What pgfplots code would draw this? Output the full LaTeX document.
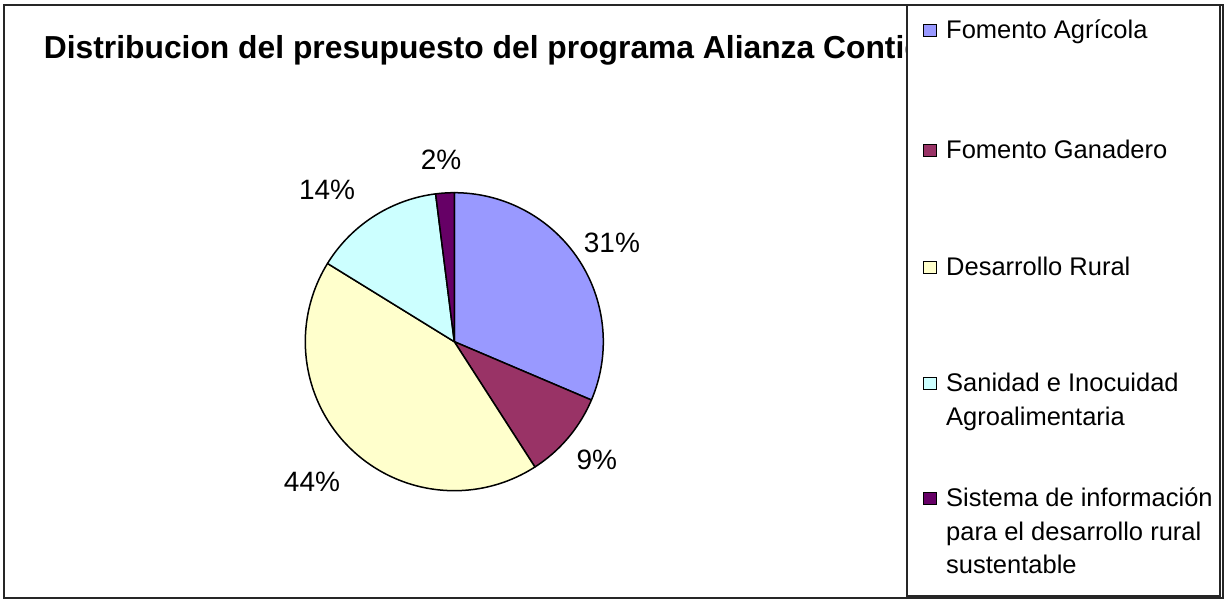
\documentclass[border=0pt]{standalone}
\usepackage{pgfplots}
\pgfplotsset{compat=1.18}
\usepackage{fontspec}
\setmainfont{Liberation Sans}
\definecolor{cA}{HTML}{9999FF}
\definecolor{cB}{HTML}{993366}
\definecolor{cC}{HTML}{FFFFCC}
\definecolor{cD}{HTML}{CCFFFF}
\definecolor{cE}{HTML}{660066}
% shares of the budget (percent)
\def\vA{31.4}% Fomento Agricola
\def\vB{9.5}% Fomento Ganadero
\def\vC{42.9}% Desarrollo Rural
\def\vD{14.2}% Sanidad e Inocuidad Agroalimentaria
\def\vE{2.0}% Sistema de informacion
\pgfmathsetmacro\aA{90}
\pgfmathsetmacro\aB{\aA-3.6*\vA}
\pgfmathsetmacro\aC{\aB-3.6*\vB}
\pgfmathsetmacro\aD{\aC-3.6*\vC}
\pgfmathsetmacro\aE{\aD-3.6*\vD}
\pgfmathsetmacro\aF{\aE-3.6*\vE}
\begin{document}
\begin{tikzpicture}[x=1pt,y=1pt]
\useasboundingbox (0,0) rectangle (1225,599);
\draw[line width=2pt, black!85] (4,1) rectangle (1223,594);
\begin{scope}
\clip (4,1) rectangle (907,594);
\node[anchor=base west, inner sep=0pt, font=\fontsize{31.8}{36}\selectfont\bfseries] at (43.7,540) {Distribucion del presupuesto del programa Alianza Contigo};
\end{scope}
\begin{axis}[at={(454.3pt,257.3pt)}, anchor=center, scale only axis,
  width=298pt, height=298pt, xmin=-1, xmax=1, ymin=-1, ymax=1,
  hide axis, clip=false]
\addplot[fill=cA, draw=black, line width=1.5pt, line join=round, domain=\aB:\aA, samples=100, variable=\t] ({cos(\t)},{sin(\t)}) -- (axis cs:0,0) -- cycle;
\addplot[fill=cB, draw=black, line width=1.5pt, line join=round, domain=\aC:\aB, samples=60, variable=\t] ({cos(\t)},{sin(\t)}) -- (axis cs:0,0) -- cycle;
\addplot[fill=cC, draw=black, line width=1.5pt, line join=round, domain=\aD:\aC, samples=120, variable=\t] ({cos(\t)},{sin(\t)}) -- (axis cs:0,0) -- cycle;
\addplot[fill=cD, draw=black, line width=1.5pt, line join=round, domain=\aE:\aD, samples=60, variable=\t] ({cos(\t)},{sin(\t)}) -- (axis cs:0,0) -- cycle;
\addplot[fill=cE, draw=black, line width=1.5pt, line join=round, domain=\aF:\aE, samples=20, variable=\t] ({cos(\t)},{sin(\t)}) -- (axis cs:0,0) -- cycle;
\node[font=\fontsize{28}{32}\selectfont] at (axis cs:1.058,0.662) {31\%};
\node[font=\fontsize{28}{32}\selectfont] at (axis cs:0.956,-0.794) {9\%};
\node[font=\fontsize{28}{32}\selectfont] at (axis cs:-0.955,-0.942) {44\%};
\node[font=\fontsize{28}{32}\selectfont] at (axis cs:-0.854,1.018) {14\%};
\node[font=\fontsize{28}{32}\selectfont] at (axis cs:-0.089,1.219) {2\%};
\end{axis}
% legend
\draw[line width=1.5pt, black!85, fill=white] (907,3) rectangle (1220,594);
\begin{scope}[every node/.style={anchor=base west, inner sep=0pt, font=\fontsize{25.5}{33}\selectfont}]
\filldraw[fill=cA, draw=black, line width=1pt] (923,562) rectangle (936,574);
\node at (946,560) {Fomento Agrícola};
\filldraw[fill=cB, draw=black, line width=1pt] (923,442) rectangle (936,454);
\node at (946,440) {Fomento Ganadero};
\filldraw[fill=cC, draw=black, line width=1pt] (923,325) rectangle (936,337);
\node at (946,323) {Desarrollo Rural};
\filldraw[fill=cD, draw=black, line width=1pt] (923,209) rectangle (936,221);
\node at (946,207) {Sanidad e Inocuidad};
\node at (946,173) {Agroalimentaria};
\filldraw[fill=cE, draw=black, line width=1pt] (923,94) rectangle (936,106);
\node at (946,92) {Sistema de información};
\node at (946,58) {para el desarrollo rural};
\node at (946,25) {sustentable};
\end{scope}
\end{tikzpicture}
\end{document}
